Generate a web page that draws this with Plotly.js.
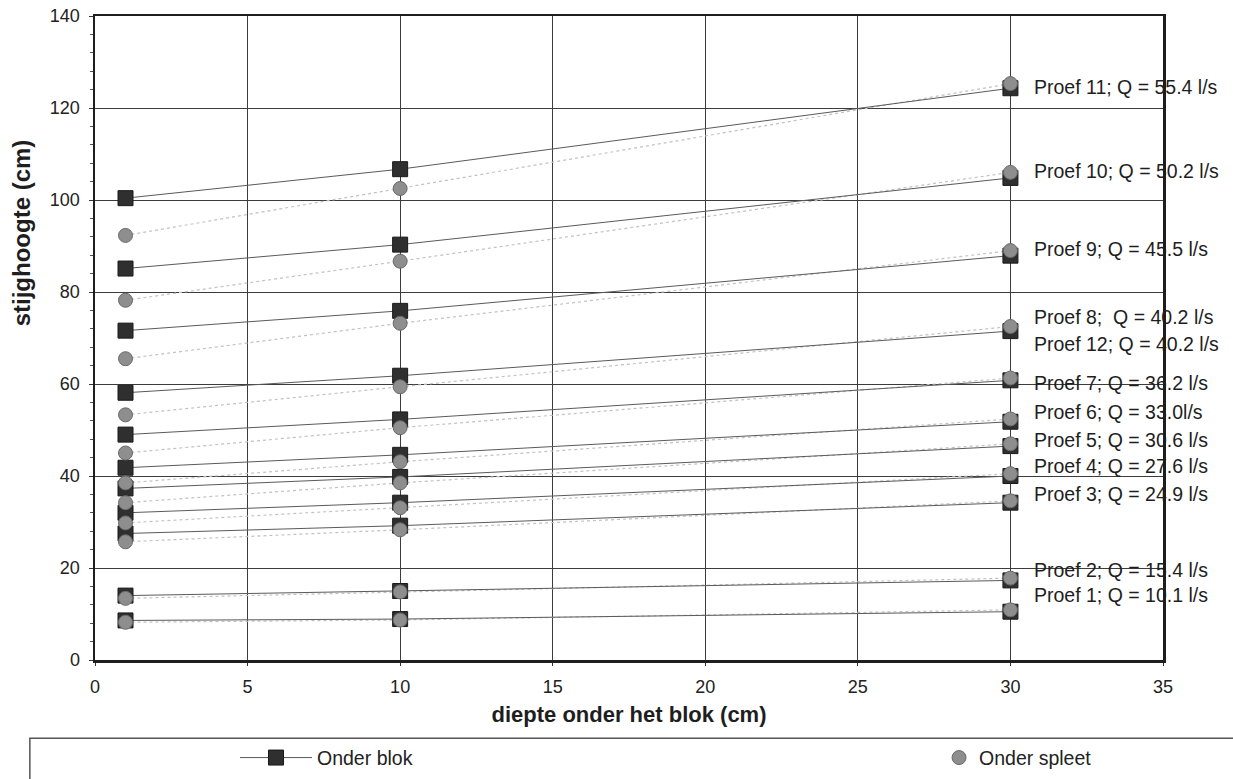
<!DOCTYPE html>
<html>
<head>
<meta charset="utf-8">
<script src="https://cdn.plot.ly/plotly-3.0.1.min.js"></script>
<style>html,body{margin:0;padding:0;background:#fff;}#chart{width:1233px;height:779px;}</style>
</head>
<body>
<div id="chart"></div>
<script>
// Depths (x) at which stijghoogte was measured
const depths = [1, 10, 30];
// Proef 1 .. 11, "Onder blok" (squares)
const blokAt1  = [8.6, 14.0, 27.5, 32.0, 37.3, 41.8, 49.0, 58.1, 71.6, 85.1, 100.4];
const blokAt10 = [8.9, 15.0, 29.2, 34.2, 39.8, 44.6, 52.3, 61.8, 75.9, 90.3, 106.7];
const blokAt30 = [10.5, 17.3, 34.2, 40.0, 46.5, 51.8, 60.8, 71.5, 87.9, 104.8, 124.3];
// Proef 1 .. 11, "Onder spleet" (circles)
const spleetAt1  = [8.2, 13.4, 25.7, 29.8, 34.2, 38.5, 45.0, 53.3, 65.5, 78.2, 92.3];
const spleetAt10 = [8.7, 14.8, 28.3, 33.1, 38.5, 43.1, 50.5, 59.4, 73.2, 86.7, 102.5];
const spleetAt30 = [10.9, 17.8, 34.6, 40.5, 47.0, 52.4, 61.3, 72.5, 89.0, 106.0, 125.3];
// Labels at the right end
const labelTexts = ['Proef 11; Q = 55.4 l/s', 'Proef 10; Q = 50.2 l/s', 'Proef 9; Q = 45.5 l/s',
  'Proef 8;\u00a0 Q = 40.2 l/s', 'Proef 12; Q = 40.2 l/s', 'Proef 7; Q = 36.2 l/s',
  'Proef 6; Q = 33.0l/s', 'Proef 5; Q = 30.6 l/s', 'Proef 4; Q = 27.6 l/s',
  'Proef 3; Q = 24.9 l/s', 'Proef 2; Q = 15.4 l/s', 'Proef 1; Q = 10.1 l/s'];
const labelY = [124.5, 106.2, 89.3, 74.5, 68.8, 60.3, 54.0, 47.9, 42.2, 36.1, 19.6, 14.2];
const xTicks = [0, 5, 10, 15, 20, 25, 30, 35];
const yTicks = [0, 20, 40, 60, 80, 100, 120, 140];

function series(a1, a10, a30) {
  const xs = [], ys = [];
  for (let i = 0; i < a1.length; i++) {
    const vals = [a1[i], a10[i], a30[i]];
    depths.forEach((d, k) => { xs.push(d); ys.push(vals[k]); });
    xs.push(null); ys.push(null);
  }
  return {xs, ys};
}
const blok = series(blokAt1, blokAt10, blokAt30);
const spleet = series(spleetAt1, spleetAt10, spleetAt30);

const FONT = 'Liberation Sans, Arial, Helvetica, sans-serif';

const traces = [
  {x: spleet.xs, y: spleet.ys, type: 'scatter', mode: 'lines', showlegend: false,
   connectgaps: false, hoverinfo: 'skip',
   line: {color: '#c2c2c2', width: 1.2, dash: 'dot'}},
  {x: blok.xs, y: blok.ys, type: 'scatter', mode: 'lines+markers', name: 'Onder blok',
   connectgaps: false, legend: 'legend',
   line: {color: '#5a5a5a', width: 1},
   marker: {symbol: 'square', size: 15, color: '#2f2f2f', line: {color: '#1a1a1a', width: 1}}},
  {x: spleet.xs, y: spleet.ys, type: 'scatter', mode: 'markers', name: 'Onder spleet',
   legend: 'legend2',
   marker: {symbol: 'circle', size: 14, color: '#8e8e8e', line: {color: '#6a6a6a', width: 1}}}
];

const annotations = labelTexts.map((t, i) => ({
  x: 30, y: labelY[i], xref: 'x', yref: 'y', text: t, showarrow: false,
  xanchor: 'left', yanchor: 'middle', xshift: 22,
  font: {family: FONT, size: 19.5, color: '#1e1e1e'}
}));
annotations.push({
  x: -0.069, y: 0.663, xref: 'paper', yref: 'paper', text: '<b>stijghoogte (cm)</b>',
  showarrow: false, textangle: -90, xanchor: 'center', yanchor: 'middle',
  font: {family: FONT, size: 24, color: '#1e1e1e'}
});

const legendCommon = {
  orientation: 'h', xanchor: 'left', yanchor: 'middle', y: -0.152,
  font: {family: FONT, size: 19.5, color: '#222'},
  bgcolor: 'rgba(0,0,0,0)', borderwidth: 0
};

const layout = {
  width: 1233, height: 779,
  margin: {l: 95, r: 70, t: 16, b: 119, autoexpand: false},
  paper_bgcolor: '#ffffff', plot_bgcolor: '#ffffff',
  font: {family: FONT, color: '#1e1e1e'},
  xaxis: {
    range: [0, 35], tickvals: xTicks, ticktext: xTicks.map(String),
    showgrid: true, gridcolor: '#3c3c3c', gridwidth: 1,
    showline: true, linecolor: '#1e1e1e', linewidth: 2.5, mirror: true,
    ticks: 'outside', ticklen: 3, tickcolor: '#333',
    ticklabelstandoff: 6,
    tickfont: {family: FONT, size: 18, color: '#222'},
    zeroline: false, automargin: false,
    title: {text: '<b>diepte onder het blok (cm)</b>', standoff: 11,
            font: {family: FONT, size: 22, color: '#1e1e1e'}}
  },
  yaxis: {
    range: [0, 140], tickvals: yTicks, ticktext: yTicks.map(String),
    showgrid: true, gridcolor: '#3c3c3c', gridwidth: 1,
    showline: true, linecolor: '#1e1e1e', linewidth: 2.5, mirror: true,
    ticks: 'outside', ticklen: 4, tickcolor: '#333',
    ticklabelstandoff: 5,
    minor: {dtick: 4, ticks: 'outside', ticklen: 3, tickcolor: '#555', showgrid: false},
    tickfont: {family: FONT, size: 18, color: '#222'},
    zeroline: false, automargin: false
  },
  showlegend: true,
  legend: Object.assign({}, legendCommon, {x: 0.1311, itemwidth: 72}),
  legend2: Object.assign({}, legendCommon, {x: 0.7903}),
  shapes: [
    {type: 'rect', xref: 'paper', yref: 'paper', x0: -0.061, x1: 1.07, y0: -0.1215, y1: -0.2,
     line: {color: '#555', width: 1.5}, fillcolor: 'rgba(0,0,0,0)', layer: 'below'}
  ],
  annotations: annotations
};

Plotly.newPlot('chart', traces, layout, {displayModeBar: false, staticPlot: true});
</script>
</body>
</html>
